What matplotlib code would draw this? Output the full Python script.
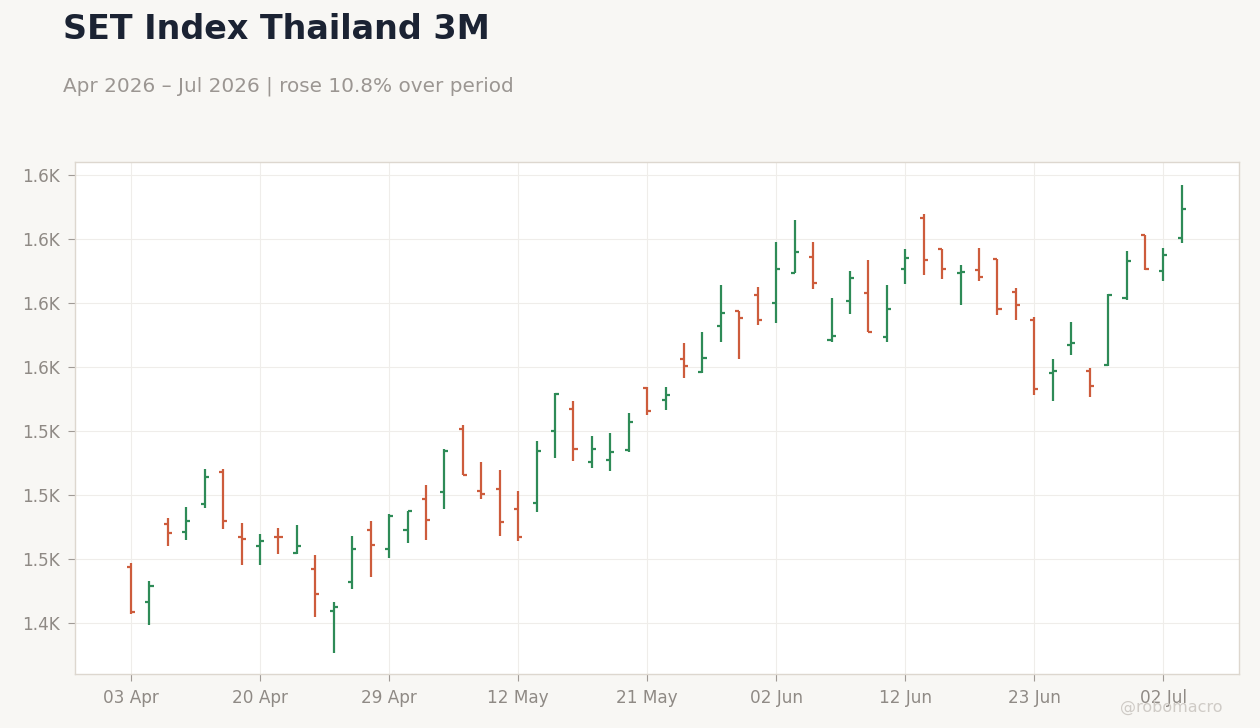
import matplotlib
matplotlib.use("Agg")
import matplotlib.pyplot as plt
from matplotlib.ticker import FuncFormatter, FixedLocator

# trading days (Thai holidays skipped)
dates = [
    "03 Apr", "07 Apr", "08 Apr", "09 Apr", "10 Apr", "16 Apr", "17 Apr",
    "20 Apr", "21 Apr", "22 Apr", "23 Apr", "24 Apr", "27 Apr", "28 Apr",
    "29 Apr", "30 Apr", "05 May", "06 May", "07 May", "08 May", "11 May",
    "12 May", "13 May", "14 May", "15 May", "18 May", "19 May", "20 May",
    "21 May", "22 May", "25 May", "26 May", "27 May", "28 May", "29 May",
    "02 Jun", "04 Jun", "05 Jun", "08 Jun", "09 Jun", "10 Jun", "11 Jun",
    "12 Jun", "15 Jun", "16 Jun", "17 Jun", "18 Jun", "19 Jun", "22 Jun",
    "23 Jun", "24 Jun", "25 Jun", "26 Jun", "29 Jun", "30 Jun", "01 Jul",
    "02 Jul", "03 Jul",
]

opens = [
    1471.8, 1458.4, 1488.6, 1485.5, 1496.5, 1509.1, 1483.5, 1480.0, 1483.7, 1477.3,
    1471.2, 1454.8, 1466.2, 1486.3, 1478.8, 1486.3, 1498.5, 1501.2, 1525.9, 1501.6,
    1502.3, 1494.5, 1496.9, 1525.2, 1533.7, 1512.9, 1513.7, 1517.6, 1542.0, 1537.2,
    1553.0, 1547.9, 1566.2, 1571.8, 1578.3, 1575.0, 1586.9, 1593.1, 1560.6, 1575.9,
    1579.0, 1561.6, 1588.4, 1608.1, 1596.1, 1586.8, 1588.0, 1592.2, 1579.4, 1568.4,
    1547.8, 1558.8, 1548.3, 1550.9, 1577.0, 1601.4, 1587.7, 1600.5,
]
highs = [
    1473.4, 1466.4, 1491.2, 1495.4, 1510.0, 1510.0, 1489.1, 1484.8, 1487.2, 1488.4,
    1476.6, 1458.1, 1484.1, 1489.7, 1492.7, 1493.9, 1503.8, 1517.9, 1527.2, 1512.9,
    1509.8, 1501.5, 1521.0, 1539.8, 1536.6, 1523.0, 1524.2, 1532.1, 1542.1, 1542.1,
    1559.2, 1563.5, 1581.9, 1572.0, 1581.3, 1598.8, 1607.5, 1598.8, 1576.8, 1587.4,
    1591.7, 1581.9, 1596.1, 1609.8, 1596.2, 1590.0, 1596.4, 1592.3, 1580.7, 1569.7,
    1553.2, 1567.4, 1549.7, 1578.4, 1595.2, 1601.6, 1596.4, 1621.3,
]
lows = [
    1453.6, 1449.4, 1480.0, 1482.5, 1494.9, 1486.9, 1472.6, 1472.6, 1477.0, 1477.0,
    1452.5, 1438.4, 1463.2, 1467.9, 1475.3, 1481.4, 1482.5, 1494.6, 1507.7, 1498.5,
    1484.1, 1482.1, 1493.5, 1514.6, 1513.2, 1510.6, 1509.5, 1516.9, 1531.1, 1533.4,
    1545.8, 1547.6, 1559.7, 1553.0, 1566.3, 1567.2, 1586.6, 1580.5, 1559.6, 1570.7,
    1563.5, 1559.9, 1582.6, 1586.1, 1584.2, 1574.3, 1583.8, 1570.4, 1568.4, 1539.2,
    1536.6, 1554.8, 1538.2, 1550.5, 1576.1, 1588.1, 1583.8, 1598.5,
]
closes = [
    1454.2, 1464.6, 1485.0, 1489.8, 1507.0, 1489.8, 1482.8, 1481.9, 1483.5, 1480.0,
    1461.4, 1456.1, 1479.1, 1480.4, 1491.7, 1493.8, 1490.2, 1517.1, 1507.7, 1500.3,
    1489.4, 1483.5, 1517.3, 1539.4, 1518.0, 1518.0, 1516.9, 1528.6, 1532.9, 1538.9,
    1550.5, 1553.4, 1571.0, 1569.0, 1568.5, 1588.2, 1595.0, 1582.7, 1562.0, 1584.6,
    1563.6, 1572.8, 1592.7, 1592.0, 1588.4, 1587.2, 1585.2, 1572.8, 1574.3, 1541.3,
    1548.3, 1559.2, 1542.5, 1578.1, 1591.6, 1588.4, 1593.9, 1611.6,
]

y_ticks = [1450, 1475, 1500, 1525, 1550, 1575, 1600, 1625]

UP = "#2e8b57"
DOWN = "#cd5c3c"
BG = "#f8f7f4"

fig = plt.figure(figsize=(12.6, 7.28), dpi=100, facecolor=BG)
ax = fig.add_axes([0.0595, 0.0742, 0.9238, 0.7033])
ax.set_facecolor("white")

x = list(range(len(dates)))
cols = [UP if c > o else DOWN for o, c in zip(opens, closes)]
tw = 0.22

ax.vlines(x, lows, highs, colors=cols, linewidth=1.6, zorder=3)
ax.hlines(opens, [i - tw for i in x], x, colors=cols, linewidth=1.6, zorder=3)
ax.hlines(closes, x, [i + tw for i in x], colors=cols, linewidth=1.6, zorder=3)

ax.set_xlim(-3.04, 60.1)
ax.set_ylim(1430.1, 1630.1)

xt = list(range(0, len(dates), 7))
ax.set_xticks(xt)
ax.set_xticklabels([dates[i] for i in xt])
ax.yaxis.set_major_locator(FixedLocator(y_ticks))
ax.yaxis.set_major_formatter(FuncFormatter(lambda v, p: f"{v / 1000:.1f}K"))

ax.grid(True, color="#efedea", linewidth=0.8, zorder=0)
ax.set_axisbelow(True)
for s in ax.spines.values():
    s.set_color("#ddd7cf")
    s.set_linewidth(1.0)
ax.tick_params(axis="both", colors="#a09b96", labelcolor="#8f8a85",
               labelsize=12.2, length=5, width=0.8)
ax.tick_params(axis="x", pad=6)
ax.tick_params(axis="y", pad=6)

fig.text(0.05, 0.947, "SET Index Thailand 3M", fontsize=24, fontweight="bold",
         color="#1b2333", ha="left", va="baseline")
fig.text(0.05, 0.874, "Apr 2026 \u2013 Jul 2026 | rose 10.8% over period",
         fontsize=14.4, color="#9b9692", ha="left", va="baseline")
fig.text(0.97, 0.022, "@robomacro", fontsize=11.5, color="#cfcbc6",
         ha="right", va="baseline")

fig.savefig("out.png", dpi=100, facecolor=BG)
